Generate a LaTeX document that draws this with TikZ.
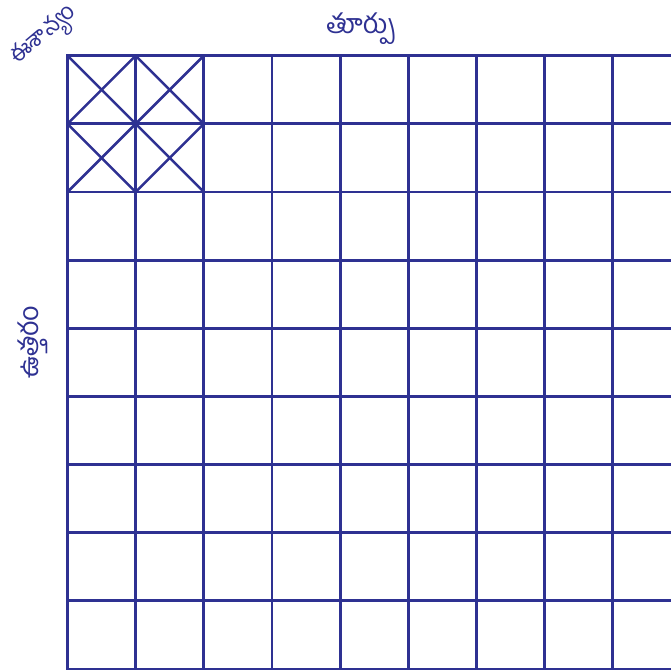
\documentclass[tikz,border=0pt]{standalone}
\usepackage{fontspec}
\newfontfamily\telugu[Script=Telugu]{Hind Guntur}
\definecolor{gridblue}{RGB}{46,49,146}
\begin{document}
\begin{tikzpicture}[x=1pt,y=-1pt,
  gridline/.style={draw=gridblue,line width=2.9pt},
  label/.style={text=gridblue,font=\telugu\fontsize{27}{30}\selectfont,inner sep=0pt}]
\useasboundingbox (0,0) rectangle (671,669);
\def\ox{67.5}
\def\oy{55.7}
\def\s{68.15}
% vertical lines
\foreach \i in {0,...,8}{
  \draw[gridline] (\ox+\i*\s,\oy-1.45) -- (\ox+\i*\s,\oy+9*\s+1.45);
}
% horizontal lines
\foreach \j in {0,...,9}{
  \draw[gridline] (\ox-1.45,\oy+\j*\s) -- (672,\oy+\j*\s);
}
% crosses in top-left 2x2 cells
\foreach \i in {0,1}{
  \foreach \j in {0,1}{
    \draw[gridline,line width=2.5pt] (\ox+\i*\s,\oy+\j*\s) -- (\ox+\i*\s+\s,\oy+\j*\s+\s);
    \draw[gridline,line width=2.5pt] (\ox+\i*\s+\s,\oy+\j*\s) -- (\ox+\i*\s,\oy+\j*\s+\s);
  }
}
\node[label,font=\telugu\fontsize{23}{26}\selectfont,rotate=40] (ne) at (45,37) {ఈశాన్యం};
\node[label] (east) at (361,29) {తూర్పు};
\node[label,rotate=90] (north) at (33,342) {ఉత్తరం};
\end{tikzpicture}
\end{document}
